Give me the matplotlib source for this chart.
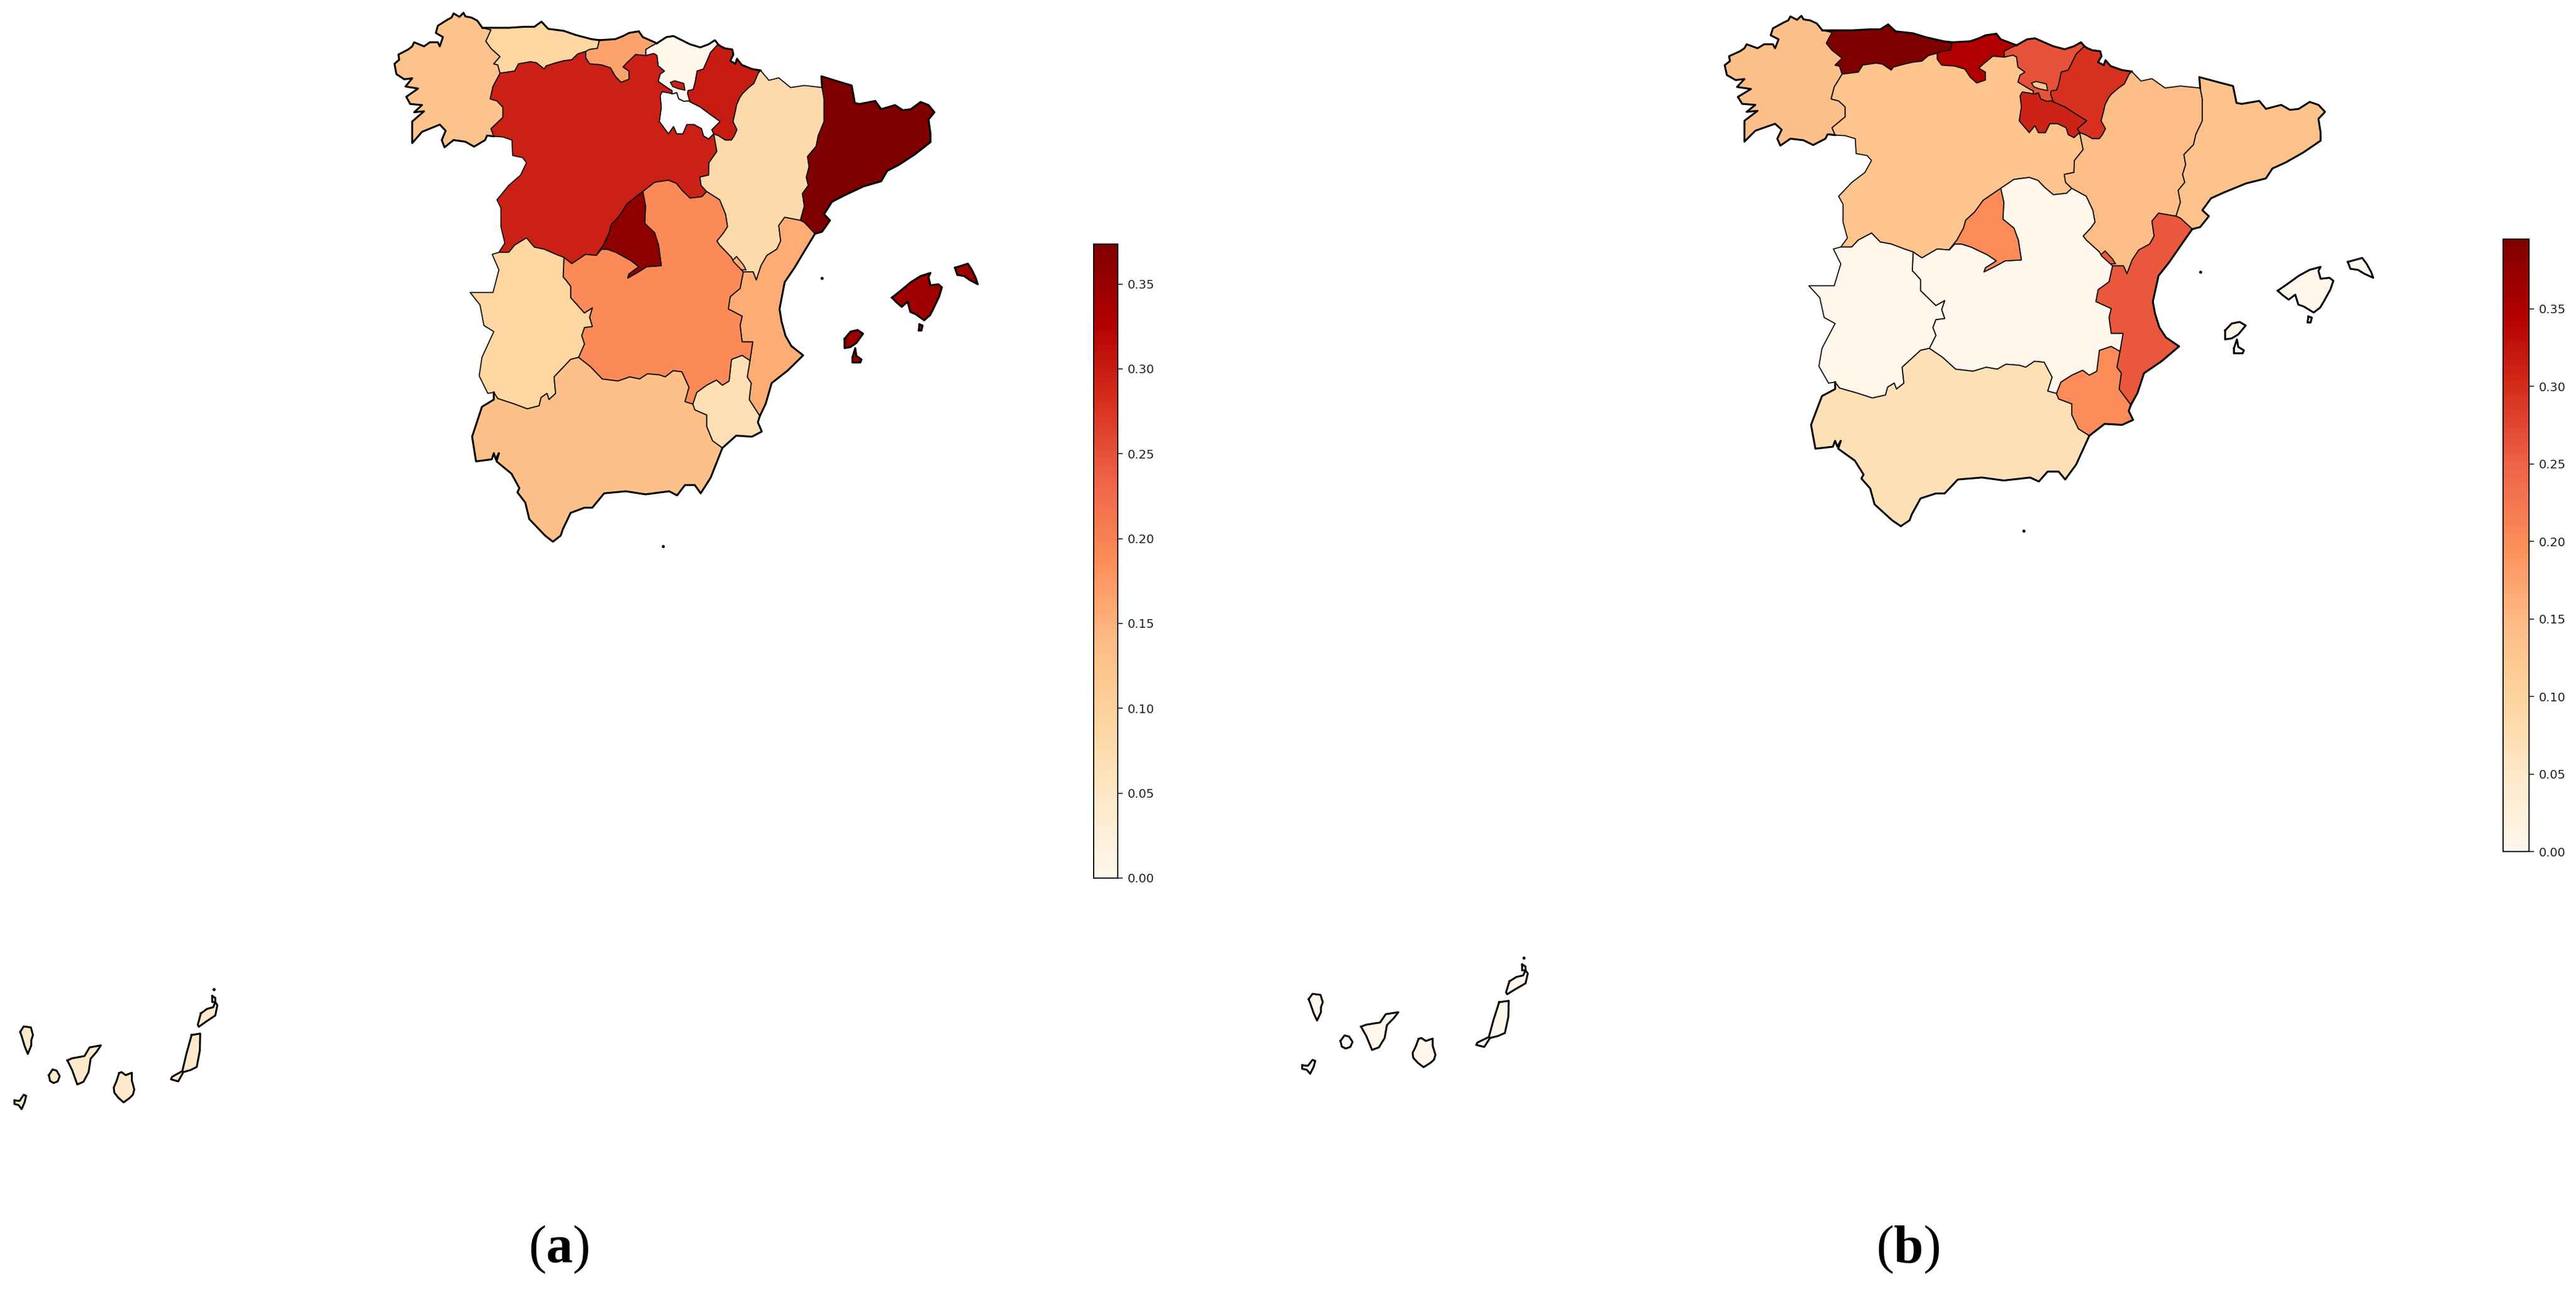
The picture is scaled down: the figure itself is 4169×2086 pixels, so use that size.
import numpy as np
import matplotlib
matplotlib.use('Agg')
import matplotlib.pyplot as plt
from matplotlib.cm import ScalarMappable
from matplotlib.collections import PolyCollection
from matplotlib.colors import Normalize

W, H = 4169, 2086

# values per autonomous community
regions = ['Galicia', 'Asturias', 'Cantabria', 'Basque', 'Navarra', 'Rioja', 'CyL', 'Aragon',
           'Catalonia', 'Valencia', 'Murcia', 'CLM', 'Madrid', 'Extremadura', 'Andalusia',
           'Balearics', 'Canaries']
values_a = [0.125, 0.09, 0.165, 0.0, 0.30, np.nan, 0.295, 0.08,
            0.3735, 0.155, 0.07, 0.19, 0.36, 0.09, 0.13,
            0.345, 0.045]
values_b = [0.14, 0.395, 0.345, 0.265, 0.295, 0.31, 0.13, 0.145,
            0.135, 0.26, 0.20, 0.0, 0.20, 0.0, 0.07,
            0.0, 0.0]
vmax_a = 0.3735
vmax_b = 0.395
ticks = [0.0, 0.05, 0.10, 0.15, 0.20, 0.25, 0.30, 0.35]


def lo(pts):
    # southern half was traced in its own crop
    return [(x + 157, y + 1350) for x, y in pts]


def can(pts):
    # canaries were traced in their own crop
    return [(x * 0.5227 - 940.8, y + 4680) for x, y in pts]


def rev(pts):
    return pts[::-1]


# borders, shared between neighbours
gal_coast = [(283, 135), (270, 100), (255, 85), (240, 80), (235, 62), (225, 82), (210, 65), (205, 85), (195, 95),
             (170, 125), (165, 160), (183, 180), (175, 225), (170, 205), (150, 205), (135, 225), (110, 205), (105, 225),
             (95, 240), (70, 265), (72, 290), (60, 310), (65, 360), (85, 385), (105, 380), (88, 420), (120, 430),
             (90, 470), (100, 505), (130, 510), (110, 545), (135, 540), (105, 590), (105, 695), (130, 640), (175, 605),
             (190, 635), (180, 680), (187, 715), (210, 680), (240, 688), (262, 712), (290, 680), (295, 658),
             (312, 662)]
gal_cyl = [(312, 662), (305, 625), (335, 570), (335, 520), (320, 490), (303, 480), (310, 420), (328, 355)]
gal_ast = [(328, 355), (322, 315), (312, 310), (328, 275), (305, 235), (292, 200), (305, 145), (283, 135)]
ast_coast = [(283, 135), (350, 135), (390, 130), (415, 130), (433, 105), (450, 140), (490, 150), (520, 170),
             (560, 190), (580, 195)]
ast_can = [(580, 195), (575, 235), (555, 240), (545, 250)]
ast_cyl = [(545, 250), (525, 262), (510, 290), (490, 295), (470, 305), (445, 320), (440, 335), (420, 305),
           (405, 300), (375, 310), (365, 345), (340, 352), (328, 355)]
can_coast = [(580, 195), (620, 190), (640, 175), (655, 160), (680, 152), (690, 180), (726, 210)]
can_bas = [(726, 210), (711, 225), (698, 240), (698, 270)]
can_cyl = [(698, 270), (672, 265), (650, 305), (640, 325), (655, 345), (655, 385), (635, 400), (620, 370),
           (608, 330), (585, 315), (555, 310), (545, 280), (545, 250)]
bas_coast = [(726, 210), (750, 180), (768, 175), (789, 195), (810, 215), (836, 230), (857, 215), (873, 195),
             (881, 215)]
bas_nav = [(881, 215), (862, 255), (852, 300), (844, 335), (828, 345), (823, 400), (818, 435), (805, 440),
           (804, 455), (810, 495)]
bas_rio = [(810, 495), (807, 490), (794, 492), (781, 480), (776, 450), (768, 455), (764, 455)]
bas_cyl = [(764, 455), (764, 440), (755, 430), (729, 395), (734, 360), (745, 345), (729, 320), (726, 270),
           (718, 260), (698, 270)]
nav_coast = [(881, 215), (888, 225), (899, 235), (917, 240), (920, 265), (912, 295), (925, 310), (929, 285),
             (941, 315), (967, 335), (989, 342)]
nav_ara = [(989, 342), (983, 355), (972, 405), (959, 425), (943, 455), (936, 475), (928, 510), (925, 540),
           (919, 590), (929, 630), (922, 660), (915, 680), (899, 680), (883, 660), (870, 650)]
nav_rio = [(870, 650), (865, 630), (886, 590), (857, 550), (836, 520), (810, 495)]
rio_cyl = [(870, 650), (857, 675), (844, 660), (839, 625), (820, 605), (802, 605), (792, 650), (776, 650),
           (768, 615), (755, 650), (732, 590), (737, 520), (734, 465), (739, 445), (755, 450), (764, 455)]
cyl_ara = [(870, 650), (878, 735), (858, 790), (857, 850), (835, 860), (838, 900), (852, 930)]
cyl_clm1 = [(852, 930), (840, 955), (810, 962), (790, 925), (775, 890), (755, 875), (720, 885), (690, 930)]
cyl_mad = [(690, 930), (650, 990), (630, 1050), (610, 1090), (605, 1130), (590, 1190), (572, 1240)]
mad_clm = [(690, 930), (697, 1000), (695, 1085), (720, 1130), (730, 1190), (737, 1290), (700, 1295), (675, 1325),
           (652, 1350), (655, 1330), (680, 1295), (660, 1265), (622, 1225), (600, 1210), (585, 1210), (572, 1240)]
cyl_clm2 = [(572, 1240), (545, 1235), (510, 1280), (490, 1250)]
cyl_ext = [(490, 1250), (470, 1235), (440, 1210), (415, 1200), (395, 1155), (365, 1190), (350, 1225), (325, 1225)]
cyl_west = [(325, 1225), (340, 1180), (330, 1100), (330, 1010), (320, 970), (350, 900), (380, 850), (395, 790),
            (385, 765), (360, 755), (358, 680), (335, 665), (312, 662)]
ara_north = [(989, 342), (1010, 390), (1035, 378), (1065, 425), (1100, 415), (1145, 425)]
ara_cat = [(1145, 425), (1150, 480), (1150, 590), (1135, 660), (1130, 710), (1108, 760), (1112, 810), (1105, 860),
           (1110, 900), (1095, 940), (1100, 1000), (1090, 1070)]
ara_val = [(1090, 1070), (1050, 1055), (1035, 1095), (1040, 1170), (1030, 1210), (1005, 1240), (990, 1290),
           (978, 1360), (970, 1320), (945, 1320)]
ara_clm = [(945, 1320), (920, 1270), (915, 1250), (885, 1190), (878, 1170), (895, 1130), (905, 1100), (900, 1040),
           (885, 970), (852, 930)]
cat_coast = [(1145, 425), (1143, 370), (1185, 395), (1220, 415), (1228, 500), (1240, 505), (1280, 490), (1295, 530),
             (1330, 510), (1350, 535), (1370, 530), (1395, 495), (1415, 510), (1430, 545), (1415, 580), (1420, 650),
             (1420, 690), (1380, 750), (1340, 800), (1310, 830), (1295, 880), (1250, 905), (1200, 950), (1170, 980),
             (1150, 1040), (1165, 1070), (1145, 1125), (1127, 1135)]
cat_val = [(1127, 1135), (1100, 1080), (1090, 1070)]
val_coast = [(1127, 1135), (1100, 1220), (1075, 1300), (1050, 1370)] + lo(
    [(880, 150), (885, 210), (895, 280), (910, 330), (940, 375), (900, 450), (860, 510), (845, 610), (830, 670)])
val_mur = lo([(830, 670), (803, 590), (808, 510), (798, 480), (805, 400)])
val_clm = lo([(805, 400), (812, 310), (785, 310), (780, 230), (785, 185), (750, 150), (755, 90), (780, 50)]) + [(945, 1320)]
mur_coast = lo([(830, 670), (825, 700), (835, 745), (810, 770), (770, 765), (735, 825)])
mur_and = lo([(735, 825), (710, 790), (695, 720), (695, 665), (665, 640), (660, 612)])
mur_clm = lo([(660, 612), (670, 555), (695, 520), (720, 495), (735, 520), (752, 500), (758, 395), (785, 375), (805, 400)])
clm_and = lo([(660, 612), (640, 600), (650, 530), (632, 455), (610, 450), (590, 480), (575, 470), (545, 465), (525, 490),
              (500, 480), (470, 500), (450, 495), (430, 490), (400, 430), (370, 385)])
clm_ext = lo([(370, 385), (385, 320), (378, 280), (385, 240), (405, 235), (398, 190), (405, 145), (385, 170), (350, 95),
              (350, 40), (338, 10)]) + [(488, 1345), (490, 1250)]
ext_west = [(325, 1225), (308, 1235), (325, 1310), (310, 1420), (252, 1420)] + lo(
    [(120, 130), (130, 230), (155, 260), (125, 385), (118, 475), (140, 560), (155, 555)])
ext_and = lo([(155, 555), (165, 585), (205, 610), (240, 635), (270, 620), (275, 580), (290, 560), (295, 590), (312, 560),
              (308, 480), (350, 395), (370, 385)])
and_coast = lo([(155, 555), (155, 590), (125, 625), (100, 770), (110, 890), (150, 880), (155, 850), (160, 880), (168, 850),
                (162, 890), (200, 950), (220, 1020), (215, 1040), (235, 1090), (245, 1170), (285, 1250), (305, 1280),
                (325, 1250), (330, 1220), (350, 1140), (385, 1115), (405, 1115), (435, 1045), (490, 1035), (540, 1050),
                (600, 1035), (620, 1055), (640, 1005), (665, 1005), (680, 1045), (705, 970), (735, 825)])

# bits that sit inside another region, and the islands
villaverde = [(713, 360), (721, 345), (730, 355), (729, 375), (719, 378)]
trevino = [(760, 400), (771, 392), (794, 405), (797, 438), (779, 430), (766, 420)]
ademuz = [(915, 1270), (928, 1245), (945, 1285), (952, 1310), (925, 1310)]
mallorca = [(1322, 1445), (1345, 1410), (1370, 1370), (1395, 1340), (1420, 1325), (1415, 1345), (1420, 1385), (1440, 1380),
            (1449, 1395), (1442, 1440), (1427, 1500), (1419, 1530), (1404, 1555), (1382, 1525), (1369, 1515), (1362, 1465),
            (1347, 1490), (1332, 1465)]
menorca = [(1482, 1300), (1515, 1280), (1525, 1310), (1535, 1350), (1540, 1380), (1520, 1360), (1505, 1340), (1488, 1335)]
ibiza = [(1202, 1645), (1217, 1610), (1235, 1602), (1249, 1620), (1232, 1665), (1217, 1685), (1202, 1690)]
formentera = [(1222, 1735), (1229, 1690), (1232, 1728), (1245, 1745), (1242, 1760), (1222, 1760)]
cabrera = [(1392, 1575), (1400, 1580), (1397, 1605), (1390, 1605)]
la_palma = can([(98, 330), (115, 303), (150, 308), (160, 345), (152, 370), (152, 395), (135, 437), (120, 400), (105, 350)])
el_hierro = can([(70, 662), (95, 665), (115, 635), (127, 640), (120, 670), (105, 705), (90, 685), (70, 680)])
gomera = can([(237, 540), (255, 512), (275, 518), (290, 545), (280, 570), (260, 578), (243, 568)])
tenerife = can([(327, 468), (350, 458), (410, 447), (435, 405), (490, 395), (470, 425), (440, 460), (430, 525),
                (405, 572), (375, 585), (350, 515)])
gran_canaria = can([(578, 530), (590, 525), (610, 540), (640, 528), (640, 565), (652, 610), (645, 635), (630, 650), (600, 672),
                    (575, 650), (555, 625), (552, 600), (565, 570)])
fuerteventura = can([(930, 345), (972, 338), (970, 420), (955, 500), (925, 515), (890, 525), (865, 570), (830, 560), (835, 548),
                     (885, 520), (905, 435)])
lanzarote = can([(975, 240), (1005, 218), (1035, 210), (1045, 185), (1055, 200), (1045, 250), (1000, 280), (965, 305), (960, 295)])
graciosa = can([(1030, 155), (1045, 165), (1045, 185), (1030, 185)])
specks = [(1145, 1350), (742, 2652)] + can([(1037, 122)])

shapes = {
    'Galicia': [gal_coast + gal_cyl + gal_ast],
    'Asturias': [ast_coast + ast_can + ast_cyl + gal_ast],
    'Cantabria': [can_coast + can_bas + can_cyl + rev(ast_can)],
    'Basque': [bas_coast + bas_nav + bas_rio + bas_cyl + rev(can_bas), villaverde],
    'Navarra': [nav_coast + nav_ara + nav_rio + rev(bas_nav)],
    'Rioja': [nav_rio + bas_rio + rev(rio_cyl)],
    'CyL': [cyl_ara + cyl_clm1 + cyl_mad + cyl_clm2 + cyl_ext + cyl_west + gal_cyl + rev(ast_cyl) + rev(can_cyl)
            + rev(bas_cyl) + rev(rio_cyl), trevino],
    'Aragon': [ara_north + ara_cat + ara_val + ara_clm + rev(cyl_ara) + rev(nav_ara)],
    'Catalonia': [cat_coast + cat_val + rev(ara_cat)],
    'Valencia': [val_coast + val_mur + val_clm + rev(ara_val) + rev(cat_val), ademuz],
    'Murcia': [mur_coast + mur_and + mur_clm + rev(val_mur)],
    'CLM': [clm_and + clm_ext + rev(cyl_clm2) + rev(mad_clm) + rev(cyl_clm1) + rev(ara_clm) + rev(val_clm) + rev(mur_clm)],
    'Madrid': [cyl_mad + rev(mad_clm)],
    'Extremadura': [ext_west + ext_and + clm_ext + cyl_ext],
    'Andalusia': [and_coast + mur_and + clm_and + rev(ext_and)],
    'Balearics': [mallorca, menorca, ibiza, formentera, cabrera],
    'Canaries': [la_palma, el_hierro, gomera, tenerife, gran_canaria, fuerteventura, lanzarote, graciosa],
}
coasts = [gal_coast, ast_coast, can_coast, bas_coast, nav_coast, cat_coast, val_coast, mur_coast, and_coast]
islands = shapes['Balearics'] + shapes['Canaries']

plt.rcParams['mathtext.fontset'] = 'custom'
plt.rcParams['mathtext.rm'] = 'Liberation Serif'
plt.rcParams['mathtext.bf'] = 'Liberation Serif:bold'


def px_axes(fig, x0, y0, x1, y1):
    # y measured from the top of the picture
    return fig.add_axes([x0 / W, 1 - y1 / H, (x1 - x0) / W, (y1 - y0) / H])


def draw_map(ax, values, vmax):
    cmap = plt.get_cmap('OrRd').copy()
    cmap.set_bad('white')
    polys, vals = [], []
    for name, val in zip(regions, values):
        for p in shapes[name]:
            polys.append(p)
            vals.append(val)
    pc = PolyCollection(polys, array=np.ma.masked_invalid(vals), cmap=cmap, norm=Normalize(0, vmax),
                        edgecolors='#111111', linewidths=1.3)
    ax.add_collection(pc)
    for arc in coasts + [p + p[:1] for p in islands]:
        xy = np.array(arc)
        ax.plot(xy[:, 0], xy[:, 1], color='black', lw=2.2, solid_joinstyle='round')
    sp = np.array(specks)
    ax.plot(sp[:, 0], sp[:, 1], 'o', color='black', ms=2.5)
    ax.set_xlim(-940.8, 1787)
    ax.set_ylim(5700, 0)
    ax.axis('off')
    return pc


def draw_bar(fig, pc, x0, y0, x1, y1):
    cax = px_axes(fig, x0, y0, x1, y1)
    cb = fig.colorbar(ScalarMappable(norm=pc.norm, cmap=pc.get_cmap()), cax=cax, ticks=ticks)
    cb.ax.set_yticklabels(['%.2f' % t for t in ticks])
    cb.ax.tick_params(labelsize=14.2, length=5.5, width=1.2, pad=6, colors='#222222')
    cb.outline.set_linewidth(1.3)


def main():
    fig = plt.figure(figsize=(W / 100, H / 100), dpi=100)

    ax_a = px_axes(fig, 0, 0, 1740, 1900)
    pc_a = draw_map(ax_a, values_a, vmax_a)
    draw_bar(fig, pc_a, 1770, 395, 1809, 1421)

    ax_b = px_axes(fig, 2081.5, 5.7, 4016, 1839)
    pc_b = draw_map(ax_b, values_b, vmax_b)
    draw_bar(fig, pc_b, 4051, 387, 4093, 1378)

    fig.text(904 / W, 1 - 2022 / H, r'($\mathbf{a}$)', family='Liberation Serif', fontsize=62,
             ha='center', va='center')
    fig.text(3088 / W, 1 - 2022 / H, r'($\mathbf{b}$)', family='Liberation Serif', fontsize=62,
             ha='center', va='center')
    fig.savefig('out.png', dpi=100)


if __name__ == '__main__':
    main()
